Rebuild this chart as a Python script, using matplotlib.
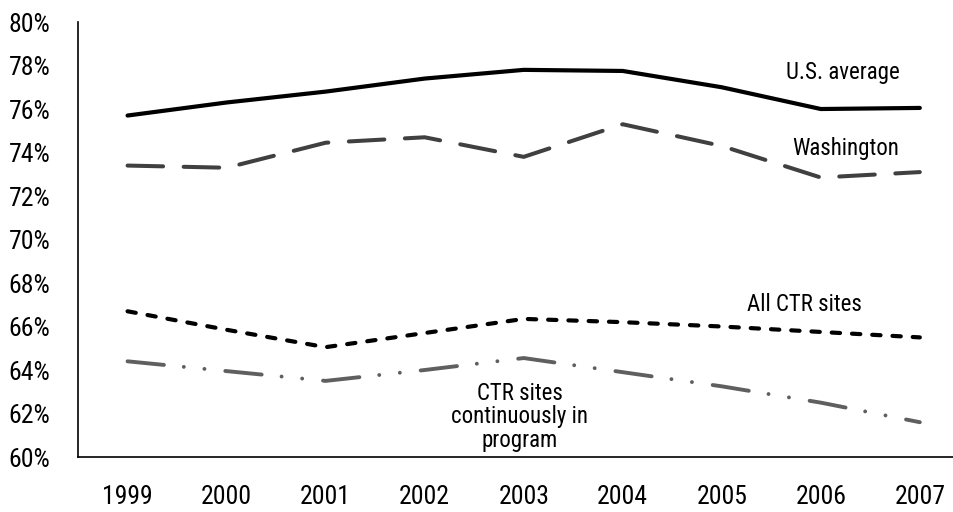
import matplotlib
matplotlib.use('Agg')
import matplotlib.pyplot as plt

plt.rcParams['font.family'] = ['Liberation Sans Narrow', 'Roboto Condensed',
                               'Liberation Sans', 'DejaVu Sans']
plt.rcParams['lines.scale_dashes'] = False

# data (percent)
years = ['1999', '2000', '2001', '2002', '2003', '2004', '2005', '2006', '2007']
us_average = [75.7, 76.3, 76.8, 77.4, 77.8, 77.75, 77.0, 76.0, 76.05]
washington = [73.4, 73.3, 74.45, 74.7, 73.8, 75.3, 74.3, 72.85, 73.1]
all_ctr = [66.7, 65.85, 65.05, 65.7, 66.35, 66.2, 66.0, 65.75, 65.5]
ctr_continuous = [64.4, 63.95, 63.5, 64.0, 64.55, 63.9, 63.25, 62.5, 61.6]

fig = plt.figure(figsize=(9.54, 5.12), dpi=100)
ax = fig.add_axes([0.0818, 0.1074, 0.9182, 0.8496])

x = range(len(years))
ax.plot(x, us_average, color='black', lw=3.0, solid_capstyle='round')
ax.plot(x, washington, color='#404040', lw=2.9, dashes=(25.6, 14.8),
        dash_capstyle='round')
ax.plot(x, all_ctr, color='black', lw=3.0, dashes=(6.0, 8.6),
        dash_capstyle='round')
ax.plot(x, ctr_continuous, color='#5f5f5f', lw=2.8,
        dashes=(26.3, 14.4, 0.01, 14.9, 0.01, 15.1), dash_capstyle='round')

# labels next to the lines
ax.text(7.22, 77.7, 'U.S. average', ha='center', va='center', fontsize=16.5)
ax.text(7.25, 74.2, 'Washington', ha='center', va='center', fontsize=16.5)
ax.text(6.83, 67.03, 'All CTR sites', ha='center', va='center', fontsize=16.5)
ax.text(3.96, 61.84, 'CTR sites\ncontinuously in\nprogram', ha='center',
        va='center', fontsize=16.5, linespacing=1.05)

ax.set_xlim(-0.5, 8.345)
ax.set_ylim(60, 80)
ax.set_xticks(list(x))
ax.set_xticklabels(years)
yt = list(range(60, 81, 2))
ax.set_yticks(yt)
ax.set_yticklabels([f'{v}%' for v in yt])
ax.tick_params(axis='both', length=0, labelsize=18.5)
ax.tick_params(axis='y', pad=20)
ax.tick_params(axis='x', pad=20)

for s in ['top', 'right']:
    ax.spines[s].set_visible(False)
ax.spines['left'].set_linewidth(1.2)
ax.spines['bottom'].set_linewidth(1.2)

fig.savefig('out.png', dpi=100)
